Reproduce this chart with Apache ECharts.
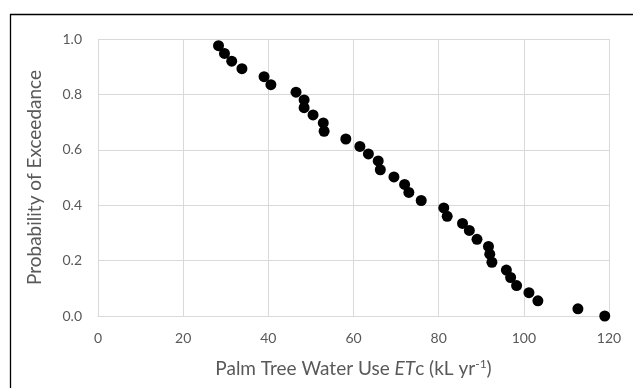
<!DOCTYPE html>
<html>
<head>
<meta charset="utf-8">
<script src="https://cdn.jsdelivr.net/npm/echarts@6/dist/echarts.min.js"></script>
<style>
  html, body { margin: 0; padding: 0; background: #ffffff; }
  #chart { width: 633px; height: 388px; }
</style>
</head>
<body>
<div id="chart"></div>
<script>
// palm tree water use ETc (kL/yr)
var waterUse = [
  28.3, 29.7, 31.4, 33.8, 39.0, 40.6, 46.5, 48.4, 48.4, 50.5,
  52.9, 53.1, 58.2, 61.5, 63.5, 65.8, 66.3, 69.5, 72.0, 73.0,
  75.9, 81.2, 82.0, 85.6, 87.2, 89.0, 91.7, 92.0, 92.5, 95.9,
  96.9, 98.3, 101.2, 103.3, 112.7, 119.0
];
// probability of exceedance
var exceedance = [
  0.976, 0.948, 0.920, 0.893, 0.864, 0.835, 0.808, 0.780, 0.752, 0.726,
  0.697, 0.667, 0.639, 0.612, 0.585, 0.560, 0.528, 0.502, 0.475, 0.446,
  0.417, 0.390, 0.360, 0.334, 0.309, 0.277, 0.251, 0.223, 0.194, 0.166,
  0.139, 0.110, 0.084, 0.055, 0.026, 0.0
];

var points = [];
for (var i = 0; i < waterUse.length; i++) {
  points.push([waterUse[i], exceedance[i]]);
}

var textColor = "#595959";
var gridColor = "#d9d9d9";
var font = "Lato";

var myChart = echarts.init(document.getElementById("chart"));
myChart.setOption({
  animation: false,
  grid: {
    left: 98,
    right: 24,
    top: 39,
    bottom: 72
  },
  graphic: [
    {
      type: "rect",
      shape: { x: 10.5, y: 14.5, width: 700, height: 500 },
      style: { fill: "none", stroke: "#000000", lineWidth: 1.3 },
      silent: true
    }
  ],
  xAxis: {
    type: "value",
    min: 0,
    max: 120,
    interval: 20,
    axisLine: { show: true, lineStyle: { color: gridColor, width: 1 } },
    axisTick: { show: false },
    axisLabel: { color: textColor, fontSize: 14, fontFamily: font, margin: 15 },
    splitLine: { show: true, lineStyle: { color: gridColor, width: 1 } },
    name: "{a|Palm Tree Water Use }{i|ET}{a|c (kL yr}{s|-1}{a|)}",
    nameLocation: "middle",
    nameGap: 42,
    nameTextStyle: {
      rich: {
        a: { color: textColor, fontSize: 19, fontFamily: font, lineHeight: 22 },
        i: { color: textColor, fontSize: 19, fontFamily: font, fontStyle: "italic", lineHeight: 22 },
        s: { color: textColor, fontSize: 12, fontFamily: font, verticalAlign: "top", lineHeight: 14 }
      }
    }
  },
  yAxis: {
    type: "value",
    min: 0,
    max: 1,
    interval: 0.2,
    axisLine: { show: false },
    axisTick: { show: false },
    axisLabel: {
      color: textColor,
      fontSize: 14,
      fontFamily: font,
      margin: 16,
      formatter: function (v) { return v.toFixed(1); }
    },
    splitLine: { show: true, lineStyle: { color: gridColor, width: 1 } },
    name: "Probability of Exceedance",
    nameLocation: "middle",
    nameGap: 54,
    nameTextStyle: { color: textColor, fontSize: 19, fontFamily: font }
  },
  series: [
    {
      type: "scatter",
      data: points,
      symbol: "circle",
      symbolSize: 11,
      itemStyle: { color: "#000000", opacity: 1 }
    }
  ]
});
</script>
</body>
</html>
